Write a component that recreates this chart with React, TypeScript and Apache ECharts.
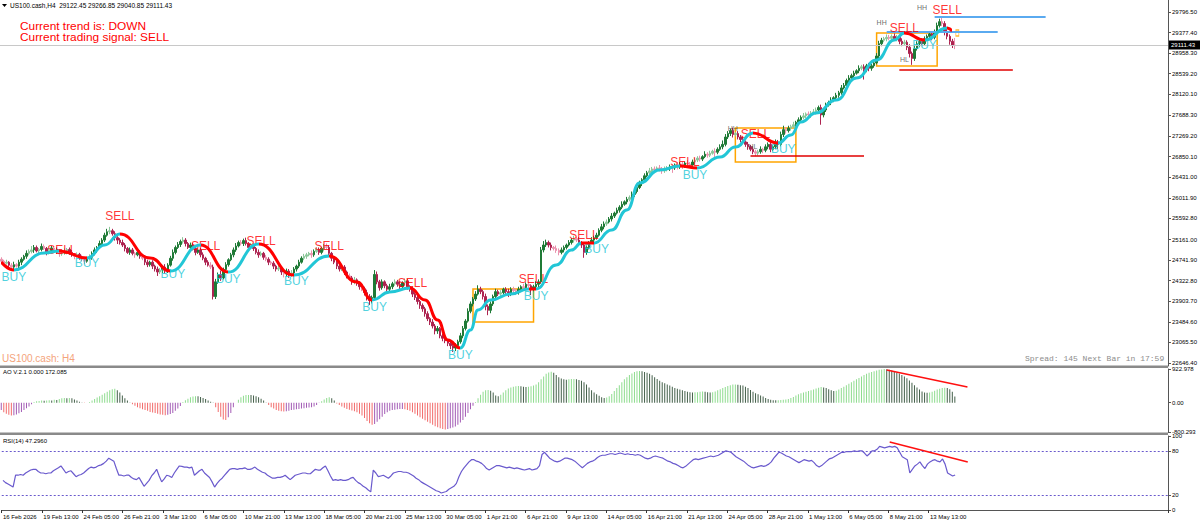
import React, { useEffect, useRef } from "react";
import * as echarts from "echarts";

// ---------- axis slots & tick labels ----------
const slotCount = 463;
const tickStep = 16;
const tickLabels = ["16 Feb 2026", "19 Feb 13:00", "24 Feb 05:00", "26 Feb 21:00", "3 Mar 13:00", "6 Mar 05:00", "10 Mar 21:00", "13 Mar 13:00", "18 Mar 05:00", "20 Mar 21:00", "25 Mar 13:00", "30 Mar 05:00", "1 Apr 21:00", "6 Apr 21:00", "9 Apr 13:00", "14 Apr 05:00", "16 Apr 21:00", "21 Apr 13:00", "24 Apr 05:00", "28 Apr 21:00", "1 May 13:00", "6 May 05:00", "8 May 21:00", "13 May 13:00"];
const priceTicks = [29796.5, 29377.4, 28958.3, 28539.2, 28120.1, 27688.3, 27269.2, 26850.1, 26431.0, 26011.9, 25592.8, 25161.0, 24741.9, 24322.8, 23903.7, 23484.6, 23065.5, 22646.4];
const priceMin = 22585.5;
const priceMax = 30040.9;
const aoTicks = [922.978, 0, -800.293];
const rsiTicks = [100, 80, 20, 0];
const rsiLevels = [80, 20];

// ---------- price data (H4 bars) ----------
const firstOpen = 24760;
const closes = [
  24720, 24680, 24700, 24640, 24600, 24650, 24620, 24700, 24760, 24820, 24880, 24920,
  24950, 25000, 24930, 24960, 25020, 24980, 24900, 24940, 24990, 24960, 24900, 24870,
  24880, 24920, 24960, 24900, 24850, 24820, 24860, 24800, 24760, 24720, 24780, 24800,
  24880, 24950, 25000, 25080, 25150, 25250, 25320, 25340, 25280, 25200, 25150, 25100,
  25050, 24980, 24900, 24950, 24880, 24850, 24900, 24820, 24780, 24700, 24650, 24700,
  24620, 24560, 24500, 24540, 24600, 24520, 24640, 24780, 24900, 25000, 25060, 25120,
  25150, 25080, 25000, 25050, 24980, 24900, 24950, 24850, 24780, 24700, 24640, 24600,
  24000, 24300, 24450, 24380, 24550, 24650, 24750, 24850, 24950, 25030, 25100, 25080,
  25140, 25080, 25000, 25040, 24980, 24900, 24850, 24880, 24800, 24760, 24700, 24680,
  24620, 24560, 24580, 24500, 24460, 24520, 24440, 24480, 24560, 24620, 24700, 24780,
  24820, 24850, 24880, 24850, 24920, 24960, 24900, 24980, 25020, 25000, 24880, 24780,
  24700, 24620, 24560, 24600, 24500, 24420, 24380, 24300, 24340, 24260, 24200, 24160,
  24080, 24000, 23920, 23980, 24450, 24300, 24180, 24300, 24220, 24150, 24200, 24260,
  24300, 24250, 24200, 24280, 24320, 24200, 24150, 24050, 23980, 23900, 23820, 23750,
  23650, 23550, 23480, 23400, 23300, 23350, 23200, 23150, 23100, 23050, 23000, 22950,
  23000, 23080, 23200, 23350, 23500, 23700, 23850, 23950, 24050, 24150, 24100, 24000,
  23800, 23720, 23850, 24000, 24100, 24050, 24080, 24150, 24100, 24050, 24150, 24120,
  24080, 24150, 24200, 24180, 24250, 24220, 24150, 24200, 24250, 24300, 24950, 25050,
  25100, 25050, 25000, 24980, 24940, 24900, 24950, 25000, 25050, 25100, 25150, 25180,
  25150, 25100, 25050, 24900, 25000, 25100, 25150, 25200, 25250, 25350, 25420, 25480,
  25520, 25580, 25640, 25700, 25760, 25820, 25880, 25930, 25980, 26020, 26080, 26140,
  26220, 26300, 26380, 26460, 26520, 26560, 26600, 26580, 26620, 26600, 26560, 26600,
  26600, 26650, 26620, 26680, 26640, 26700, 26660, 26720, 26700, 26680, 26740, 26780,
  26820, 26800, 26850, 26900, 26880, 26920, 26960, 26940, 27000, 27050, 27100, 27250,
  27320, 27380, 27300, 27320, 27250, 27200, 27150, 27100, 27050, 27000, 26950, 26920,
  26950, 27000, 26980, 27050, 27100, 27000, 27050, 27150, 27100, 27300, 27400, 27380,
  27430, 27460, 27500, 27550, 27600, 27650, 27680, 27720, 27700, 27740, 27760, 27800,
  27850, 27700, 27800, 27900, 27950, 28000, 28050, 28100, 28150, 28250, 28300, 28400,
  28450, 28500, 28550, 28600, 28650, 28680, 28620, 28700, 28650, 28700, 28760, 28900,
  29150, 29220, 29250, 29280, 29260, 29300, 29250, 29280, 29200, 29150, 29180, 29080,
  28950, 28850, 29050, 29150, 29200, 29150, 29250, 29300, 29350, 29280, 29400, 29520,
  29600, 29560, 29400, 29300, 29200, 29122.45, 29111.43,
];
const wickUp = [
  40, 30, 50, 20, 40, 60, 30, 50, 40, 30, 60, 40,
  80, 50, 40, 30, 60, 40, 30, 50, 40, 30, 40, 50,
  40, 60, 30, 40, 50, 30, 40, 30, 50, 40, 30, 60,
  40, 50, 30, 60, 40, 50, 60, 80, 40, 50, 30, 40,
  60, 40, 30, 50, 40, 30, 60, 40, 30, 40, 50, 30,
  40, 30, 50, 40, 30, 60, 40, 50, 60, 40, 50, 40,
  60, 40, 30, 50, 40, 60, 30, 40, 50, 30, 40, 60,
  50, 60, 40, 80, 40, 50, 30, 40, 50, 60, 40, 50,
  40, 60, 30, 50, 40, 30, 60, 40, 30, 50, 40, 30,
  40, 30, 60, 40, 30, 50, 40, 60, 40, 30, 50, 40,
  50, 40, 30, 60, 40, 50, 40, 30, 50, 60, 40, 30,
  40, 50, 30, 60, 40, 30, 50, 40, 60, 30, 40, 50,
  40, 60, 50, 40, 90, 60, 40, 50, 30, 40, 60, 40,
  50, 40, 60, 30, 50, 40, 30, 50, 40, 60, 30, 40,
  40, 50, 30, 60, 40, 50, 30, 40, 50, 30, 40, 60,
  50, 40, 60, 50, 40, 60, 50, 40, 60, 80, 50, 40,
  60, 40, 50, 40, 60, 40, 50, 30, 40, 60, 40, 50,
  40, 50, 30, 60, 40, 50, 30, 40, 60, 50, 60, 80,
  60, 40, 50, 30, 60, 40, 50, 40, 30, 50, 40, 60,
  40, 60, 30, 50, 40, 30, 60, 40, 50, 40, 60, 50,
  50, 40, 60, 30, 50, 40, 60, 30, 50, 40, 60, 50,
  40, 60, 30, 50, 40, 60, 40, 50, 30, 60, 40, 50,
  60, 40, 50, 30, 60, 40, 50, 30, 60, 40, 50, 40,
  40, 50, 30, 60, 40, 50, 30, 60, 40, 50, 80, 60,
  50, 40, 60, 30, 50, 40, 60, 30, 50, 40, 60, 40,
  40, 60, 30, 50, 40, 60, 30, 50, 40, 60, 80, 50,
  50, 40, 60, 30, 50, 40, 60, 30, 50, 40, 60, 50,
  40, 60, 30, 50, 40, 60, 30, 50, 40, 60, 50, 40,
  60, 40, 50, 30, 60, 40, 50, 40, 60, 40, 50, 60,
  60, 50, 40, 60, 50, 40, 60, 50, 40, 60, 50, 40,
  60, 40, 80, 50, 40, 60, 50, 40, 60, 50, 40, 60,
  60, 100, 50, 60, 40, 50, 144.4,
];
const wickDn = [
  50, 40, 30, 60, 40, 50, 30, 40, 60, 30, 50, 40,
  40, 60, 30, 50, 40, 30, 60, 40, 50, 40, 30, 60,
  40, 30, 60, 50, 40, 60, 30, 50, 40, 60, 30, 40,
  50, 40, 60, 30, 50, 40, 30, 50, 40, 60, 80, 40,
  40, 60, 30, 50, 40, 60, 30, 50, 40, 60, 50, 40,
  60, 50, 80, 40, 60, 50, 40, 30, 50, 40, 30, 50,
  40, 60, 30, 50, 40, 60, 30, 50, 40, 60, 30, 40,
  60, 50, 40, 60, 30, 50, 40, 30, 50, 40, 30, 40,
  50, 40, 60, 30, 50, 40, 60, 30, 50, 40, 60, 40,
  60, 50, 40, 60, 70, 50, 60, 40, 30, 50, 40, 30,
  40, 50, 30, 60, 40, 30, 50, 40, 60, 30, 50, 60,
  40, 60, 50, 40, 60, 50, 40, 60, 50, 40, 60, 50,
  60, 80, 90, 60, 40, 50, 60, 40, 50, 60, 40, 50,
  40, 50, 60, 40, 50, 60, 50, 60, 50, 60, 70, 60,
  60, 50, 60, 50, 70, 60, 50, 60, 50, 60, 70, 80,
  60, 50, 40, 50, 40, 30, 40, 50, 40, 30, 50, 60,
  80, 100, 60, 40, 50, 40, 50, 40, 50, 60, 40, 50,
  50, 40, 60, 40, 50, 40, 120, 50, 40, 60, 40, 50,
  40, 50, 60, 40, 50, 60, 40, 50, 40, 30, 40, 50,
  40, 50, 60, 110, 50, 40, 30, 50, 40, 30, 40, 50,
  40, 30, 50, 40, 30, 50, 40, 30, 50, 40, 30, 50,
  40, 30, 50, 40, 30, 50, 40, 60, 30, 50, 60, 40,
  50, 40, 100, 40, 50, 40, 60, 40, 50, 60, 40, 50,
  40, 50, 40, 30, 50, 40, 30, 110, 40, 30, 50, 40,
  40, 50, 60, 40, 50, 60, 40, 50, 60, 40, 50, 60,
  50, 40, 60, 40, 50, 60, 40, 50, 90, 40, 50, 60,
  40, 50, 30, 40, 50, 30, 40, 50, 30, 60, 40, 50,
  40, 200, 50, 40, 30, 50, 40, 30, 50, 40, 30, 50,
  40, 50, 40, 30, 50, 40, 200, 50, 60, 50, 40, 30,
  40, 50, 40, 50, 40, 60, 40, 50, 60, 50, 40, 60,
  80, 130, 50, 40, 60, 50, 40, 50, 40, 60, 40, 50,
  40, 50, 80, 60, 70, 60, 70.58,
];

// ---------- trend line (sampled points) ----------
const maIdx = [0, 5, 17, 23, 34, 41, 47, 59, 67, 79, 90, 102, 116, 130, 141, 147, 154, 162, 168, 173, 177, 182, 186, 189, 194, 202, 209, 212, 220, 226, 230, 235, 242, 248, 253, 261, 269, 276, 285, 291, 298, 308, 313, 317, 323, 331, 339, 347, 354, 358, 366, 375, 377];
const maVal = [24704, 24541, 24887, 24928, 24785, 25050, 25274, 24785, 24521, 25050, 24500, 25070, 24439, 24826, 24296, 23930, 24093, 24174, 23930, 23522, 23115, 22952, 23319, 23726, 23930, 24052, 24154, 24154, 24643, 24948, 25091, 25091, 25356, 25763, 26313, 26578, 26660, 26619, 26843, 27047, 27332, 27128, 27291, 27556, 27739, 28004, 28452, 28819, 29226, 29369, 29226, 29471, 29409];
const maDir = ["d", "u", "u", "d", "u", "u", "d", "d", "u", "d", "u", "d", "u", "d", "d", "u", "u", "d", "d", "d", "d", "u", "u", "u", "u", "u", "d", "u", "u", "u", "d", "u", "u", "u", "u", "u", "d", "u", "u", "u", "d", "u", "u", "u", "u", "u", "u", "u", "u", "d", "u", "d", "d"];

// ---------- signals ----------
const buyIdx = [5, 34, 68, 90, 117, 148, 182, 212, 236, 275, 310, 366];
const buyPrice = [24398, 24684, 24460, 24358, 24317, 23787, 22810, 24011, 24970, 26476, 27006, 29124];
const sellIdx = [24, 47, 81, 103, 130, 163, 211, 231, 271, 299, 358, 375];
const sellPrice = [24948, 25641, 25030, 25132, 25030, 24276, 24358, 25250, 26741, 27311, 29471, 29837];
const swingIdx = [349, 358, 365, 290, 298];
const swingPrice = [29590, 28819, 29880, 27420, 27047];
const swingText = ["HH", "HL", "HH", "HH", "HL"];

// ---------- annotations ----------
const boxes = [[187, 24154, 211, 23482], [291, 27434, 315, 26741], [347, 29369, 371, 28696]];
const redLevels = [[297, 342, 26873], [356, 401, 28625]];
const blueLevels = [[370, 414, 29705], [351, 395, 29399]];
const pendingMark = [379, 29369];
const bidPrice = 29111.43;

// ---------- AO ----------
const aoMin = -800.293;
const aoMax = 922.978;
const aoValues = [
  -200, -260, -300, -330, -350, -340, -320, -290, -250, -200, -150, -100, -40,
  20, 40, 50, 60, 55, 60, 70, 60, 80, 75, 100,
  120, 130, 125, 130, 120, 90, 60,
  30, 10, -10, 0, 20,
  60, 100, 140, 180, 220, 260, 300, 340, 370, 380, 340,
  280, 200, 120, 60,
  10, -40, -80, -120, -150, -180, -200, -220, -250, -270, -280, -300, -320, -330, -340, -330, -310, -280, -220, -160, -90,
  20, 70, 110, 150, 170, 180, 175, 160, 130, 100, 60, 30, 10,
  -120, -250, -380, -460, -470, -400, -280,
  -120, 0, 80, 150, 190, 210, 215, 210, 200, 180, 150, 110, 60,
  10, -60, -120, -160, -200, -220, -230, -240, -230, -220, -200, -190, -180, -170, -160, -150, -140, -130, -120, -100, -60,
  -10, 40, 90, 130, 150, 120, 60,
  -20, -60, -100, -140, -170, -190, -210, -230, -260, -300, -350, -420, -500, -560, -600,
  -580, -520, -450, -380, -310, -260, -220, -200, -190,
  -180, -170, -170, -180, -200, -220, -260, -300, -350,
  -400, -440, -480, -520, -560, -600, -640, -670, -700, -720, -730, -720,
  -700, -680, -650, -600, -540, -470, -380, -280, -180, -80,
  20,
  120, 220, 300, 340, 350, 330, 280,
  200, 180, 220,
  280, 340, 390, 420, 440, 450, 455, 450, 440, 430, 440, 450, 470, 500, 560,
  640, 720, 790, 830, 850, 820, 760,
  700, 660, 640, 630, 640, 650, 650, 640, 620, 600, 560, 500,
  420, 340, 280, 230, 190, 150, 130, 140, 180, 240,
  320, 400, 480, 560, 640, 700, 760, 800, 840, 860, 870, 860,
  840, 820, 790, 750, 700, 650, 600, 560, 530, 500, 470, 440,
  400, 380, 360, 340, 320, 300, 290, 280, 285, 290, 300, 310,
  300, 290, 280, 290, 310, 340, 370, 400, 430, 460, 480, 500, 500, 490, 480, 470,
  440, 400, 350, 300, 260, 230, 200, 170,
  130, 100, 80, 70, 65, 70, 75, 80, 90, 100, 130, 160,
  200, 230, 260, 280, 300, 320, 340, 360, 390, 410, 430, 420,
  400, 370, 340, 320, 330, 360, 400, 440,
  480, 520, 560, 600, 640, 680, 720, 760, 790, 820, 840, 860,
  880, 900, 910, 920, 915, 900, 880, 860, 830, 800,
  760, 720, 670, 610, 550, 480, 420, 360, 310, 280,
  270, 280, 300, 330, 360, 380, 400, 410, 400, 370, 300, 172.085,
];
const aoDivergence = [[351, 894], [383, 429]];

// ---------- RSI(14) ----------
const rsiValues = [
  40, 37, 35, 33, 31, 47, 47, 48, 47, 50, 52, 54, 55,
  55, 52, 50, 50, 49, 50, 50, 53, 55, 57, 59.5, 55,
  50, 52, 53, 49, 45, 47, 48, 50, 53, 56, 58, 57,
  58, 60, 61, 63, 66, 70, 68, 66, 56, 47, 47, 46,
  47, 47, 44, 42, 41, 44, 38, 32, 36, 40, 46, 50,
  55, 46, 38, 42, 47, 46, 44, 50, 55, 59.5, 59, 58,
  58, 57, 58, 47, 50, 53, 55, 50, 47, 44, 38, 31,
  36, 40, 43, 47, 51, 55, 56, 56, 55, 56, 56, 57,
  55, 55, 56, 58, 55, 53, 51, 50, 47, 45, 43, 43,
  44, 44, 45, 47, 44, 41, 44, 47, 48, 49, 50, 50,
  49, 49, 52, 55, 54, 54, 57, 59.5, 53, 46, 40, 41,
  40, 41, 40, 40, 41, 43, 44, 40, 37, 35, 32, 30,
  27, 24.5, 54, 50, 45, 46, 47, 45, 43, 46, 50, 51,
  52, 52, 51, 51, 50, 48, 46, 43, 41, 38, 36, 34,
  32, 30, 28, 26, 25, 23, 24, 25, 28, 30, 32, 36,
  45, 52, 57, 61, 65, 68, 68, 66, 65, 63, 60, 56,
  54, 56, 58, 60, 60, 59, 58, 57, 58, 57, 56, 57,
  56, 55, 54, 55, 56, 54, 55, 56, 60, 75, 78, 74,
  70, 68, 66, 65, 66, 68, 70, 70, 69, 68, 66, 63,
  60, 57, 60, 63, 65, 66, 68, 71, 73, 74, 74, 75,
  76, 76, 75, 76, 77, 76, 75, 76, 75, 75, 74, 75,
  74, 72, 70, 69, 70, 72, 73, 72, 71, 70, 68, 66,
  65, 63, 62, 60, 58, 57, 59, 62, 65, 68, 69, 68,
  69, 70, 71, 72, 73, 72, 73, 74, 76, 78, 80, 79,
  78, 75, 72, 70, 68, 66, 63, 60, 58, 57, 58, 59,
  60, 59, 60, 62, 65, 70, 74, 78, 77, 75, 73, 72,
  70, 68, 66, 64, 66, 68, 67, 66, 67, 64, 60, 58,
  60, 63, 66, 69, 70, 72, 74, 76, 78, 78, 79, 79,
  79, 80, 79, 80, 80, 77, 73, 76, 80, 80, 82, 86,
  85, 84, 85, 86, 85, 86, 84, 78, 72, 70, 68, 50,
  55, 59.5, 62, 65, 60, 56, 62, 65, 67, 68, 66, 65,
  69, 62, 50, 48, 46, 47.296,
];
const rsiDivergence = [[352, 92], [383, 65]];

// ---------- styles ----------
const FONT = "'Liberation Sans', Arial, sans-serif";
const CYAN = "#22c6d6";
const RED = "#ff0000";

export default function App() {
  const ref = useRef<HTMLDivElement>(null);

  useEffect(() => {
    document.body.style.margin = "0";
    if (!ref.current) return;
    const chart = echarts.init(ref.current, null, { renderer: "svg" });

    const slots = Array.from({ length: slotCount }, (_, i) => String(i));

    const candleData = closes.map((c, i) => {
      const o = i === 0 ? firstOpen : closes[i - 1];
      const hi = Math.max(o, c) + wickUp[i];
      const lo = Math.min(o, c) - wickDn[i];
      const up = c >= o;
      const big = Math.abs(c - o) >= 50;
      const col = up ? (big ? "#1f7a36" : "#8cc79a") : big ? "#ad2350" : "#ea90ac";
      return { value: [o, c, lo, hi], itemStyle: { color: col, color0: col, borderColor: col, borderColor0: col } };
    });

    const aoData = aoValues.map((v, i) => {
      const prev = i === 0 ? v : aoValues[i - 1];
      const rising = v >= prev;
      const col = v >= 0 ? (rising ? "#8fdc8f" : "#44604a") : rising ? "#a35bb5" : "#f26b6b";
      return { value: v, itemStyle: { color: col } };
    });

    // colour pieces for the single smooth trend line
    const maPieces: any[] = [];
    let start = 0;
    for (let i = 1; i < maIdx.length; i++) {
      if (i === maIdx.length - 1 || maDir[i] !== maDir[start]) {
        maPieces.push({ gte: maIdx[start], lte: maIdx[i], color: maDir[start] === "u" ? CYAN : RED });
        start = i;
      }
    }
    const maPoints = maIdx.map((x, i) => [x, maVal[i]]);

    const tickShown = (i: number) => i % tickStep === 0 && i / tickStep < tickLabels.length;

    const hiddenX = (gi: number) => ({
      type: "category", gridIndex: gi, data: slots, boundaryGap: true,
      axisLine: { show: false }, axisTick: { show: false }, axisLabel: { show: false }, splitLine: { show: false },
    });

    const option: any = {
      animation: false,
      backgroundColor: "#ffffff",
      textStyle: { fontFamily: FONT },
      grid: [
        { left: 0, top: 0, width: 1168, height: 366 },
        { left: 0, top: 369, width: 1168, height: 63 },
        { left: 0, top: 436, width: 1168, height: 74 },
      ],
      visualMap: [
        { type: "piecewise", show: false, seriesIndex: 1, dimension: 0, pieces: maPieces },
      ],
      xAxis: [
        hiddenX(0),
        hiddenX(1),
        {
          type: "category", gridIndex: 2, data: slots, boundaryGap: true,
          axisLine: { show: true, lineStyle: { color: "#555", width: 1 } },
          axisTick: { show: true, interval: (i: number) => tickShown(i), length: 3, lineStyle: { color: "#333" } },
          axisLabel: {
            show: true, interval: (i: number) => tickShown(i),
            formatter: (_v: string, i: number) => tickLabels[i / tickStep] ?? "",
            align: "left", fontSize: 6, color: "#000", margin: 4, fontFamily: FONT,
          },
          splitLine: { show: false },
        },
      ],
      yAxis: [
        {
          type: "value", gridIndex: 0, position: "right", min: priceMin, max: priceMax,
          splitLine: { show: false },
          axisLine: { show: true, lineStyle: { color: "#555" } },
          axisTick: { show: true, customValues: priceTicks, length: 3, lineStyle: { color: "#555" } },
          axisLabel: { customValues: priceTicks, formatter: (v: number) => v.toFixed(2), fontSize: 6, color: "#000", margin: 4, hideOverlap: false, fontFamily: FONT },
        },
        {
          type: "value", gridIndex: 1, position: "right", min: aoMin, max: aoMax,
          splitLine: { show: false },
          axisLine: { show: true, lineStyle: { color: "#555" } },
          axisTick: { show: true, customValues: aoTicks, length: 3, lineStyle: { color: "#555" } },
          axisLabel: { customValues: aoTicks, formatter: (v: number) => (v === 0 ? "0.00" : v.toFixed(3)), fontSize: 6, color: "#000", margin: 4, hideOverlap: false, fontFamily: FONT },
        },
        {
          type: "value", gridIndex: 2, position: "right", min: 0, max: 100,
          splitLine: { show: false },
          axisLine: { show: true, lineStyle: { color: "#555" } },
          axisTick: { show: true, customValues: rsiTicks, length: 3, lineStyle: { color: "#555" } },
          axisLabel: { customValues: rsiTicks, formatter: (v: number) => String(v), fontSize: 6, color: "#000", margin: 4, hideOverlap: false, fontFamily: FONT },
        },
      ],
      series: [
        {
          type: "candlestick", xAxisIndex: 0, yAxisIndex: 0, data: candleData, barWidth: 2, z: 3,
          markLine: {
            silent: true, symbol: "none", label: { show: false },
            data: [
              { yAxis: bidPrice, lineStyle: { color: "#c8c8c8", width: 1, type: "solid" } },
              ...redLevels.map((l) => [
                { coord: [l[0], l[2]], lineStyle: { color: "#e00000", width: 1.5, type: "solid" } },
                { coord: [l[1], l[2]] },
              ]),
              ...blueLevels.map((l) => [
                { coord: [l[0], l[2]], lineStyle: { color: "#5aaaf0", width: 2, type: "solid" } },
                { coord: [l[1], l[2]] },
              ]),
            ],
          },
          markArea: {
            silent: true,
            itemStyle: { color: "rgba(0,0,0,0)", borderColor: "#ffa500", borderWidth: 1.5 },
            data: boxes.map((b) => [{ coord: [b[0], b[1]] }, { coord: [b[2], b[3]] }]),
          },
        },
        {
          type: "line", xAxisIndex: 0, yAxisIndex: 0, data: maPoints, smooth: 0.5, smoothMonotone: "x",
          symbol: "none", silent: true, z: 6, lineStyle: { width: 3 },
        },
        {
          type: "scatter", xAxisIndex: 0, yAxisIndex: 0, z: 5, silent: true,
          data: buyIdx.map((x, i) => [x, buyPrice[i]]), symbolSize: 1,
          itemStyle: { color: "rgba(0,0,0,0)" },
          label: { show: true, position: "inside", formatter: "BUY", color: CYAN, fontSize: 12, fontFamily: FONT },
        },
        {
          type: "scatter", xAxisIndex: 0, yAxisIndex: 0, z: 5, silent: true,
          data: sellIdx.map((x, i) => [x, sellPrice[i]]), symbolSize: 1,
          itemStyle: { color: "rgba(0,0,0,0)" },
          label: { show: true, position: "inside", formatter: "SELL", color: RED, fontSize: 12, fontFamily: FONT },
        },
        {
          type: "scatter", xAxisIndex: 0, yAxisIndex: 0, z: 4, silent: true,
          data: swingIdx.map((x, i) => ({ value: [x, swingPrice[i]], name: swingText[i] })), symbolSize: 1,
          itemStyle: { color: "rgba(0,0,0,0)" },
          label: { show: true, position: "inside", formatter: "{b}", color: "#444", fontSize: 7, fontFamily: FONT },
        },
        {
          type: "scatter", xAxisIndex: 0, yAxisIndex: 0, z: 4, silent: true,
          data: [pendingMark], symbol: "rect", symbolSize: [3, 6],
          itemStyle: { color: "rgba(0,0,0,0)", borderColor: "#ffa500", borderWidth: 1 },
        },
        {
          type: "bar", xAxisIndex: 1, yAxisIndex: 1, data: aoData, barWidth: 1, silent: true,
        },
        {
          type: "line", xAxisIndex: 1, yAxisIndex: 1, data: aoDivergence, symbol: "none", silent: true,
          lineStyle: { color: "#ff1010", width: 1.5 }, z: 5,
        },
        {
          type: "line", xAxisIndex: 2, yAxisIndex: 2, data: rsiValues, symbol: "none", silent: true,
          lineStyle: { color: "#6a5acd", width: 1.2 }, z: 4,
          markLine: {
            silent: true, symbol: "none", label: { show: false },
            lineStyle: { color: "#6a5acd", width: 1, type: [2, 2] },
            data: rsiLevels.map((v) => ({ yAxis: v })),
          },
        },
        {
          type: "line", xAxisIndex: 2, yAxisIndex: 2, data: rsiDivergence, symbol: "none", silent: true,
          lineStyle: { color: "#ff1010", width: 1.5 }, z: 5,
        },
      ],
      graphic: [
        { type: "rect", shape: { x: 0, y: 365.5, width: 1168, height: 2.5 }, style: { fill: "#8a8a8a" }, z: 10 },
        { type: "rect", shape: { x: 0, y: 432.5, width: 1168, height: 2.5 }, style: { fill: "#8a8a8a" }, z: 10 },
        { type: "polygon", shape: { points: [[2, 4], [7, 4], [4.5, 7]] }, style: { fill: "#000" }, z: 10 },
        { type: "text", x: 10, y: 5.5, style: { text: "US100.cash,H4  29122.45 29266.85 29040.85 29111.43", fill: "#000", font: `6.5px ${FONT}`, verticalAlign: "middle" }, z: 10 },
        { type: "text", x: 20, y: 26.2, scaleX: 1.08, style: { text: "Current trend is: DOWN", fill: "#ff0000", font: `11px ${FONT}`, verticalAlign: "middle" }, z: 10 },
        { type: "text", x: 20, y: 37.6, scaleX: 1.08, style: { text: "Current trading signal: SELL", fill: "#ff0000", font: `11px ${FONT}`, verticalAlign: "middle" }, z: 10 },
        { type: "text", x: 2, y: 358, style: { text: "US100.cash: H4", fill: "#f4a47c", font: `10px ${FONT}`, verticalAlign: "middle" }, z: 10 },
        { type: "text", x: 1025, y: 358, style: { text: "Spread: 145 Next Bar in 17:59", fill: "#8c8c8c", font: "8px 'Liberation Mono', 'DejaVu Sans Mono', monospace", verticalAlign: "middle" }, z: 10 },
        { type: "text", x: 3, y: 372, style: { text: "AO V.2.1 0.000 172.085", fill: "#000", font: `6px ${FONT}`, verticalAlign: "middle" }, z: 10 },
        { type: "text", x: 3, y: 441, style: { text: "RSI(14) 47.2960", fill: "#000", font: `6px ${FONT}`, verticalAlign: "middle" }, z: 10 },
        { type: "rect", shape: { x: 1169, y: 40.5, width: 31, height: 9 }, style: { fill: "#000" }, z: 20 },
        { type: "text", x: 1171, y: 45, style: { text: "29111.43", fill: "#fff", font: `6px ${FONT}`, verticalAlign: "middle" }, z: 21 },
      ],
    };

    chart.setOption(option);
    return () => chart.dispose();
  }, []);

  return <div ref={ref} style={{ width: 1200, height: 527 }} />;
}
